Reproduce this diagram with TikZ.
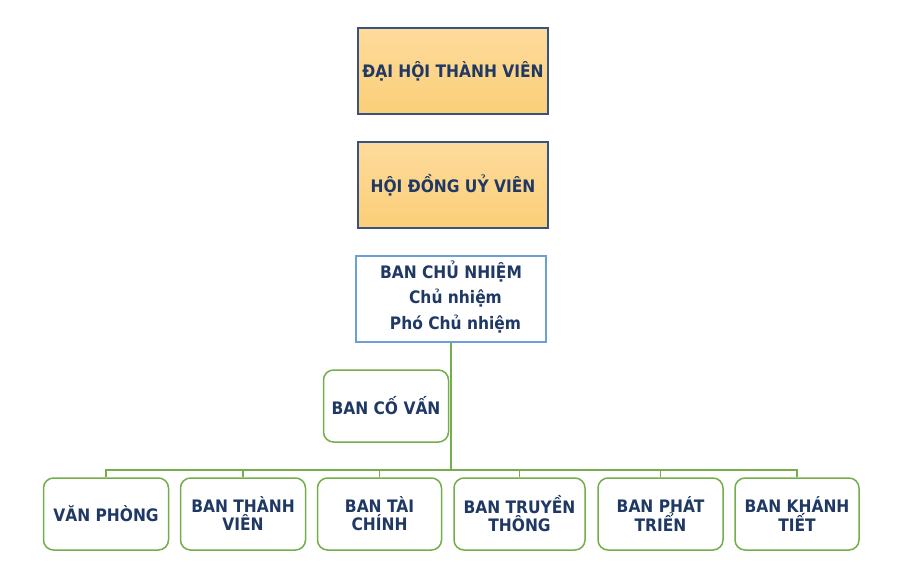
\documentclass[tikz,border=0pt]{standalone}
\usepackage{fontspec}
\setmainfont{DejaVu Sans Condensed}[BoldFont={DejaVu Sans Condensed Bold}]
\begin{document}
\begin{tikzpicture}[x=1pt,y=-1pt,
  txt/.style={text=navy,font=\fontsize{17.2}{18}\selectfont\bfseries,align=center},
  topbox/.style={txt,draw=boxblue,line width=1.2pt,top color=orTop,bottom color=orBot,minimum width=190pt,minimum height=86pt,inner sep=0pt},
  chbox/.style={txt,draw=lblue,line width=1.3pt,fill=white,minimum width=190pt,minimum height=86pt,inner sep=0pt},
  gbox/.style={txt,draw=gr,line width=1.5pt,fill=white,rounded corners=10pt,minimum width=125pt,minimum height=72pt,inner sep=0pt},
  conn/.style={draw=gr,line width=1.6pt}]
\definecolor{navy}{HTML}{1F3864}
\definecolor{boxblue}{HTML}{3A5281}
\definecolor{lblue}{HTML}{6A9FD8}
\definecolor{orTop}{HTML}{FEDB9C}
\definecolor{orBot}{HTML}{FBCF78}
\definecolor{gr}{HTML}{74AE4C}
\useasboundingbox (0,0) rectangle (916,572);
\node[topbox] (dh) at (453,71) {ĐẠI HỘI THÀNH VIÊN};
\node[topbox] (hd) at (453,185) {HỘI ĐỒNG UỶ VIÊN};
\node[chbox] (bcn) at (451,299) {};
\node[txt] (l1) at (451,272) {BAN CHỦ NHIỆM};
\node[txt] (l2) at (455.5,298) {Chủ nhiệm};
\node[txt] (l3) at (455.5,324) {Phó Chủ nhiệm};
\node[gbox] (cv) at (386,406) {BAN CỐ VẤN};
\coordinate (bus) at (451,470);
\node[gbox] (b1) at (106,514) {VĂN PHÒNG};
\node[gbox] (b2) at (243,514) {BAN THÀNH\\VIÊN};
\node[gbox,minimum width=124pt] (b3) at (379.5,514) {BAN TÀI\\CHÍNH};
\node[gbox,minimum width=131pt] (b4) at (519.5,514) {BAN TRUYỀN\\THÔNG};
\node[gbox] (b5) at (660.5,514) {BAN PHÁT\\TRIỂN};
\node[gbox,minimum width=124pt] (b6) at (797,514) {BAN KHÁNH\\TIẾT};
\draw[conn,line width=2.2pt] (bcn.south) -- (bus);
\draw[conn] (b1.north) -- (b1.north |- bus) -- (b6.north |- bus) -- (b6.north)
  (b2.north |- bus) -- (b2.north)
  (b3.north |- bus) -- (b3.north)
  (b4.north |- bus) -- (b4.north)
  (b5.north |- bus) -- (b5.north);
\end{tikzpicture}
\end{document}
